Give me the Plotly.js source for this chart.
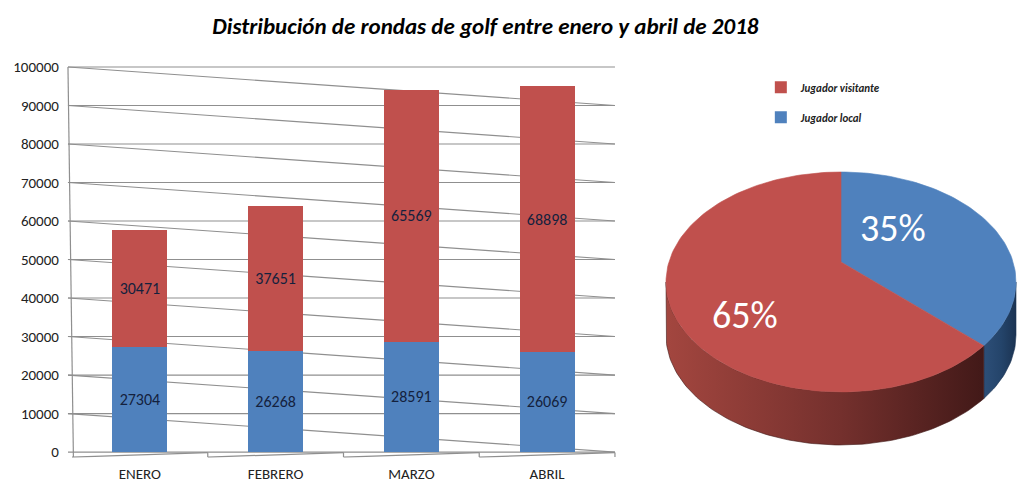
<!DOCTYPE html>
<html>
<head>
<meta charset="utf-8">
<script src="https://cdn.plot.ly/plotly-3.0.1.min.js"></script>
<style>
  html, body { margin: 0; padding: 0; background: #fff; }
  #chart { width: 1024px; height: 492px; }
</style>
</head>
<body>
<div id="chart"></div>
<script>
// Rounds of golf per month, split by player type
const months = ['ENERO', 'FEBRERO', 'MARZO', 'ABRIL'];
const localRounds = [27304, 26268, 28591, 26069];
const visitorRounds = [30471, 37651, 65569, 68898];
const yTicks = [0, 10000, 20000, 30000, 40000, 50000, 60000, 70000, 80000, 90000, 100000];
const seriesNames = ['Jugador local', 'Jugador visitante'];

const RED = '#C0504D';
const BLUE = '#4F81BD';
const FONT = 'Carlito, Lato, "Open Sans", sans-serif';
const GRID = '#8f8f8f';

// Bar chart: left wall / floor look of the old Excel 3D chart
const xLeft = -0.5, xRight = 3.5, wallX = -0.53, floorY = -1300;
const shapes = [];
const seg = (x0, y0, x1, y1) => shapes.push({
    type: 'line', xref: 'x', yref: 'y', x0, y0, x1, y1, layer: 'below',
    line: { color: GRID, width: 1.2 }
});
yTicks.forEach((v, i) => {
    seg(wallX, v, xRight, v);
    if (i > 0) seg(wallX, v, xRight, yTicks[i - 1]);
});
seg(wallX, yTicks[yTicks.length - 1], xLeft + 0.01, floorY);
months.forEach((m, i) => {
    seg(i - 0.5, floorY, i + 0.5, -150);
    seg(i + 0.5, -150, i + 0.5, floorY);
});

const barBase = {
    type: 'bar', x: months, hoverinfo: 'skip',
    texttemplate: '%{y:d}', textposition: 'inside', insidetextanchor: 'middle',
    textangle: 0, constraintext: 'none',
    textfont: { family: FONT, size: 16, color: '#14213d' }
};
const traces = [
    Object.assign({}, barBase, { y: localRounds, name: seriesNames[0],
        legendgroup: 'local', legendrank: 2, marker: { color: BLUE } }),
    Object.assign({}, barBase, { y: visitorRounds, name: seriesNames[1],
        legendgroup: 'visit', legendrank: 1, marker: { color: RED } })
];

// Pie: shares of the four-month totals, drawn as a tilted disc in pixel space
const sum = arr => arr.reduce((a, b) => a + b, 0);
const totals = [sum(localRounds), sum(visitorRounds)];
const grand = sum(totals);
const shares = totals.map(t => t / grand);

const CX = 841, CY = 282, RX = 175, RY = 110, DEPTH = 53, APEX_Y = CY - 20;
function arc(c0, c1, dy) {
    const pts = [];
    const n = Math.max(4, Math.ceil((c1 - c0) * 240));
    for (let k = 0; k <= n; k++) {
        const phi = 2 * Math.PI * (c0 + (c1 - c0) * k / n);
        pts.push([CX + RX * Math.sin(phi), CY - RY * Math.cos(phi) + dy]);
    }
    return pts;
}
function poly(pts, fill, extra) {
    return Object.assign({
        type: 'scatter', mode: 'lines', xaxis: 'x2', yaxis: 'y2',
        x: pts.map(p => p[0]), y: pts.map(p => p[1]),
        fill: 'toself', fillcolor: fill, line: { width: 0.6, color: fill },
        hoverinfo: 'skip', showlegend: false
    }, extra || {});
}

const slices = [
    { c0: 0, c1: shares[0], color: BLUE, side: ['#2d4f78', '#24446a', '#1b3352'] },
    { c0: shares[0], c1: 1, color: RED, side: ['#a3463f', '#74302d', '#421918'] }
];
const sideTraces = [], topTraces = [];
slices.forEach(s => {
    const a = Math.max(s.c0, 0.25), b = Math.min(s.c1, 0.75);
    if (b > a) {
        const pts = arc(a, b, 0).concat(arc(a, b, DEPTH).reverse());
        pts.push(pts[0]);
        sideTraces.push(poly(pts, s.side[1], {
            line: { width: 0.6, color: s.side[2] },
            fillgradient: { type: 'horizontal',
                colorscale: [[0, s.side[0]], [0.55, s.side[1]], [1, s.side[2]]] }
        }));
    }
    const top = [[CX, APEX_Y]].concat(arc(s.c0, s.c1, 0));
    top.push([CX, APEX_Y]);
    topTraces.push(poly(top, s.color));
});
traces.push(...sideTraces, ...topTraces);

// Percentage labels (anchor points tuned to the tilted disc)
const labelPos = [[893, 228], [745, 315]];
const annotations = shares.map((s, i) => ({
    xref: 'x2', yref: 'y2', x: labelPos[i][0], y: labelPos[i][1],
    text: Math.round(s * 100) + '%', showarrow: false,
    font: { family: FONT, size: 38, color: '#ffffff' }
}));

const layout = {
    width: 1024, height: 492,
    margin: { l: 0, r: 0, t: 0, b: 0 },
    paper_bgcolor: '#ffffff',
    plot_bgcolor: 'rgba(0,0,0,0)',
    barmode: 'stack',
    bargap: 0.595,
    title: {
        text: 'Distribución de rondas de golf entre enero y abril de 2018',
        x: 0.474, xanchor: 'center', y: 0.947, yanchor: 'middle',
        font: { family: FONT, size: 23, weight: 'bold', style: 'italic', color: '#000' }
    },
    xaxis: {
        domain: [0.0624, 0.6032], range: [-0.56, 3.52],
        showgrid: false, zeroline: false, showline: false, ticks: '',
        ticklabelstandoff: 5,
        tickfont: { family: FONT, size: 15, color: '#222' }, fixedrange: true
    },
    yaxis: {
        domain: [0.0695, 0.8677], range: [-1500, 100500],
        tickvals: yTicks, ticktext: yTicks.map(String),
        showgrid: false, zeroline: false, showline: false, ticks: '',
        ticklabelstandoff: 4,
        tickfont: { family: FONT, size: 15, color: '#222' }, fixedrange: true
    },
    xaxis2: { domain: [0, 1], range: [0, 1024], visible: false, anchor: 'y2', fixedrange: true },
    yaxis2: { domain: [0, 1], range: [492, 0], visible: false, anchor: 'x2', fixedrange: true },
    showlegend: true,
    legend: {
        x: 0.743, y: 0.852, xanchor: 'left', yanchor: 'top',
        traceorder: 'grouped', tracegroupgap: 11, itemwidth: 30,
        font: { family: FONT, size: 11, weight: 'bold', style: 'italic', color: '#222' },
        bgcolor: 'rgba(0,0,0,0)'
    },
    shapes: shapes,
    annotations: annotations
};

Plotly.newPlot('chart', traces, layout, { displayModeBar: false, staticPlot: true });
</script>
</body>
</html>
